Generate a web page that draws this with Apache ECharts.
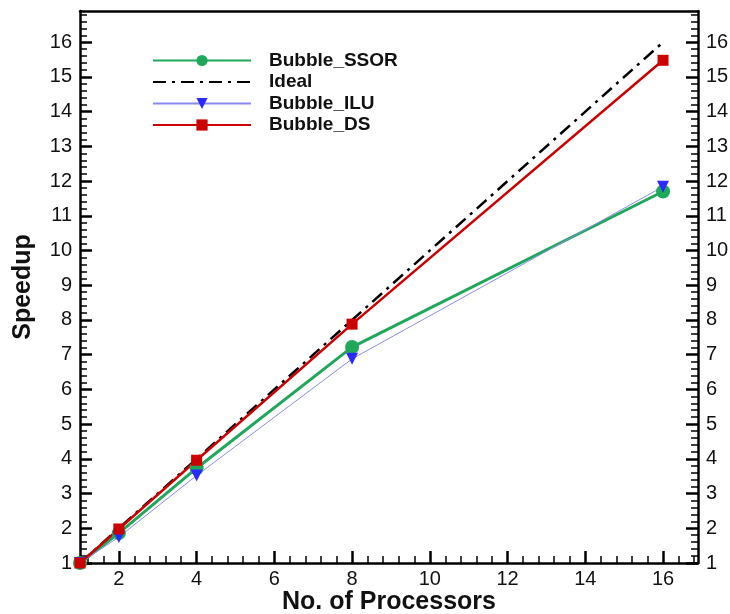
<!DOCTYPE html>
<html>
<head>
<meta charset="utf-8">
<script src="https://cdn.jsdelivr.net/npm/echarts@6/dist/echarts.min.js"></script>
<style>
  html, body { margin: 0; padding: 0; background: #fff; }
  #chart { width: 730px; height: 614px; }
</style>
</head>
<body>
<div id="chart"></div>
<script>
// Parallel speedup of the bubble solver with different preconditioners
const processors = [1, 2, 4, 8, 16];
const ssorSpeedup = [1, 1.86, 3.73, 7.22, 11.7];
const idealSpeedup = [1, 2, 4, 8, 16];
const iluSpeedup = [1, 1.75, 3.52, 6.88, 11.84];
const dsSpeedup = [1, 1.98, 3.96, 7.88, 15.48];

const xTickLabels = [2, 4, 6, 8, 10, 12, 14, 16];
const yTickLabels = [1, 2, 3, 4, 5, 6, 7, 8, 9, 10, 11, 12, 13, 14, 15, 16];

const AXIS_MIN = 1;
const AXIS_MAX = 16.9;
const FONT = 'Liberation Sans, Arial, Helvetica, sans-serif';

// minor tick positions: 0.4 apart on x, 0.2 apart on y
const xMinor = [];
for (let k = 3; k <= 42; k++) {
  const v = Math.round(k * 4) / 10;
  if (v % 2 !== 0) xMinor.push(v);
}
const yMinor = [];
for (let k = 6; k <= 84; k++) {
  const v = Math.round(k * 2) / 10;
  if (!Number.isInteger(v)) yMinor.push(v);
}

const pairs = (ys) => processors.map((x, i) => [x, ys[i]]);

const axisLineStyle = { show: true, onZero: false, lineStyle: { color: '#000', width: 2.5 } };
const labelStyle = { fontFamily: FONT, fontSize: 20, color: '#111' };

function majorX(position, withLabels, extra) {
  return Object.assign({
    type: 'value', position: position, min: AXIS_MIN, max: AXIS_MAX,
    axisLine: axisLineStyle,
    axisTick: { show: withLabels, inside: true, length: 12, customValues: xTickLabels,
                lineStyle: { color: '#000', width: 2.5 } },
    axisLabel: withLabels ? Object.assign({ show: true, margin: 6, customValues: xTickLabels }, labelStyle)
                          : { show: false },
    splitLine: { show: false }
  }, extra || {});
}
function minorX() {
  return {
    type: 'value', position: 'bottom', min: AXIS_MIN, max: AXIS_MAX,
    axisLine: { show: false },
    axisTick: { show: true, inside: true, length: 7, customValues: xMinor,
                lineStyle: { color: '#000', width: 1.5 } },
    axisLabel: { show: false }, splitLine: { show: false }
  };
}
function majorY(position, extra) {
  return Object.assign({
    type: 'value', position: position, min: AXIS_MIN, max: AXIS_MAX,
    axisLine: axisLineStyle,
    axisTick: { show: true, inside: true, length: 12, customValues: yTickLabels,
                lineStyle: { color: '#000', width: 2.5 } },
    axisLabel: Object.assign({ show: true, margin: 8, customValues: yTickLabels }, labelStyle),
    splitLine: { show: false }
  }, extra || {});
}
function minorY(position) {
  return {
    type: 'value', position: position, min: AXIS_MIN, max: AXIS_MAX,
    axisLine: { show: false },
    axisTick: { show: true, inside: true, length: 7, customValues: yMinor,
                lineStyle: { color: '#000', width: 1.5 } },
    axisLabel: { show: false }, splitLine: { show: false }
  };
}

const chart = echarts.init(document.getElementById('chart'), null, { renderer: 'canvas' });

chart.setOption({
  animation: false,
  backgroundColor: '#fff',
  grid: { left: 80, right: 32, top: 11, bottom: 51, containLabel: false, outerBoundsMode: 'none' },
  legend: {
    orient: 'vertical',
    left: 152, top: 51, padding: 0,
    itemWidth: 98, itemHeight: 14, itemGap: 2.5,
    textStyle: { fontFamily: FONT, fontSize: 19, fontWeight: 'bold', color: '#111',
                 lineHeight: 19, padding: [0, 0, 0, 13] },
    data: [
      'Bubble_SSOR',
      { name: 'Ideal', itemStyle: { opacity: 0 } },
      'Bubble_ILU',
      'Bubble_DS'
    ]
  },
  xAxis: [
    majorX('bottom', true, {
      name: 'No. of Processors', nameLocation: 'middle', nameGap: 27, nameMoveOverlap: false,
      nameTextStyle: { fontFamily: FONT, fontSize: 25, fontWeight: 'bold', color: '#111' }
    }),
    minorX(),
    majorX('top', false)
  ],
  yAxis: [
    majorY('left', {
      name: 'Speedup', nameLocation: 'middle', nameGap: 44, nameMoveOverlap: false,
      nameTextStyle: { fontFamily: FONT, fontSize: 25, fontWeight: 'bold', color: '#111' }
    }),
    minorY('left'),
    majorY('right'),
    minorY('right')
  ],
  series: [
    {
      name: 'Bubble_SSOR', type: 'line', data: pairs(ssorSpeedup),
      symbol: 'circle', symbolSize: 14,
      lineStyle: { color: '#1fa85a', width: 3 },
      itemStyle: { color: '#1fa85a' }
    },
    {
      name: 'Ideal', type: 'line', data: pairs(idealSpeedup),
      symbol: 'none',
      lineStyle: { color: '#000', width: 2.5, type: [13, 6, 3, 6] },
      itemStyle: { color: '#000' }
    },
    {
      name: 'Bubble_ILU', type: 'line', data: pairs(iluSpeedup),
      symbol: 'triangle', symbolRotate: 180, symbolSize: 12,
      lineStyle: { color: '#8a8af0', width: 1 },
      itemStyle: { color: '#2a2aff' }
    },
    {
      name: 'Bubble_DS', type: 'line', data: pairs(dsSpeedup),
      symbol: 'rect', symbolSize: 11,
      lineStyle: { color: '#cc0000', width: 2.5 },
      itemStyle: { color: '#cc0000' }
    }
  ]
});
</script>
</body>
</html>
